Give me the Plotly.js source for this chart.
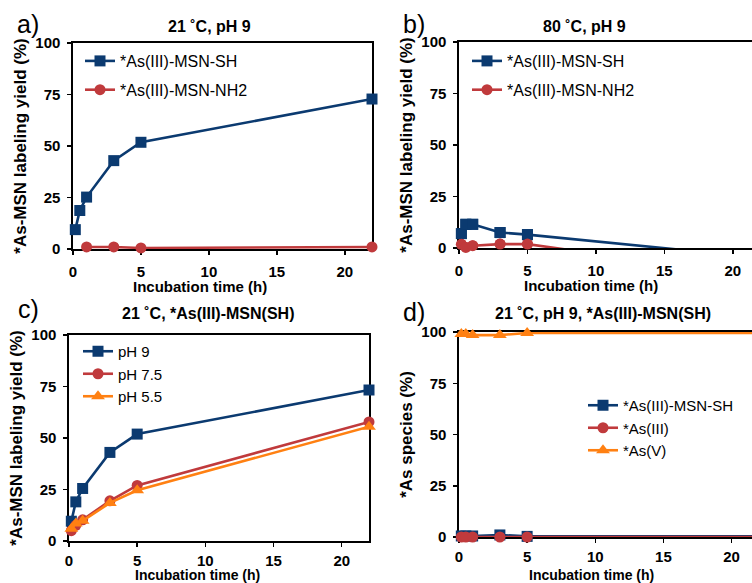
<!DOCTYPE html>
<html><head><meta charset="utf-8">
<script src="https://cdn.plot.ly/plotly-3.0.1.min.js"></script>
<style>html,body{margin:0;padding:0;background:#fff}#chart{width:752px;height:583px}</style>
</head><body><div id="chart"></div>
<script>
// ---- data ----
const timeH = [0.17, 0.5, 1, 3, 5, 22];
const timeNH2a = [1, 3, 5, 22];
const aSH = [9.4, 18.7, 25.2, 42.9, 51.8, 72.8];
const aNH2 = [1, 1, 0.5, 1];
const bSH = [7, 11.5, 11.5, 7.5, 6.5, -4.7];
const bNH2 = [1.8, 0.3, 1.1, 1.9, 1.9, -14];
const cPH9 = [9.6, 19, 25.5, 43, 51.9, 73.3];
const cPH75 = [5, 7.6, 10.3, 19.5, 27, 57.8];
const cPH55 = [6, 8.5, 9.8, 18.5, 24.6, 55.5];
const dSH = [0.5, 0.5, 0.5, 1, 0.3, 0.3];
const dAs3 = [0, 0, 0, 0, 0, 0];
const dAs5 = [99, 99, 98.5, 98.5, 99.5, 99.5];
const yTicks = [0, 25, 50, 75, 100];
const xTicks = [0, 5, 10, 15, 20];
const namesAB = ['*As(III)-MSN-SH', '*As(III)-MSN-NH2'];
const namesC = ['pH 9', 'pH 7.5', 'pH 5.5'];
const namesD = ['*As(III)-MSN-SH', '*As(III)', '*As(V)'];
const panelTitles = ['21 ˚C, pH 9', '80 ˚C, pH 9', '21 ˚C, *As(III)-MSN(SH)', '21 ˚C, pH 9, *As(III)-MSN(SH)'];
const panelLabels = ['a)', 'b)', 'c)', 'd)'];
const xTitle = 'Incubation time (h)';
const yTitleYield = '*As-MSN labeling yield (%)';
const yTitleSpecies = '*As species (%)';

// ---- styles ----
const F = 'Liberation Sans, Arial, sans-serif';
const BLUE = '#0b3a70', RED = '#c03a3c', ORANGE = '#ff8012';
const W = 752, H = 583;
const sym = {sq: 'square', ci: 'circle', tr: 'triangle-up'};
const msize = {square: 11, circle: 11, 'triangle-up': 12};

function tr(x, y, name, color, symbol, xa, ya, leg, extra) {
  return Object.assign({
    x: x, y: y, name: name, type: 'scatter', mode: 'lines+markers',
    xaxis: xa, yaxis: ya, legend: leg,
    line: {color: color, width: 2.6},
    marker: {color: color, symbol: symbol, size: msize[symbol]},
    cliponaxis: false, hoverinfo: 'x+y+name'
  }, extra || {});
}

const data = [
  tr(timeH, aSH, namesAB[0], BLUE, sym.sq, 'x', 'y', 'legend', {legendgroup: 'a1'}),
  tr(timeNH2a, aNH2, namesAB[1], RED, sym.ci, 'x', 'y', 'legend', {legendgroup: 'a2'}),
  tr(timeH, bSH, namesAB[0], BLUE, sym.sq, 'x2', 'y2', 'legend2', {legendgroup: 'b1', cliponaxis: true}),
  tr(timeH, bNH2, namesAB[1], RED, sym.ci, 'x2', 'y2', 'legend2', {legendgroup: 'b2', cliponaxis: true}),
  tr(timeH, bSH, namesAB[0], BLUE, sym.sq, 'x2', 'y2', 'legend2', {mode: 'markers', showlegend: false}),
  tr(timeH, bNH2, namesAB[1], RED, sym.ci, 'x2', 'y2', 'legend2', {mode: 'markers', showlegend: false}),
  tr(timeH, cPH9, namesC[0], BLUE, sym.sq, 'x3', 'y3', 'legend3'),
  tr(timeH, cPH75, namesC[1], RED, sym.ci, 'x3', 'y3', 'legend3'),
  tr(timeH, cPH55, namesC[2], ORANGE, sym.tr, 'x3', 'y3', 'legend3'),
  tr(timeH, dSH, namesD[0], BLUE, sym.sq, 'x4', 'y4', 'legend4'),
  tr(timeH, dAs3, namesD[1], RED, sym.ci, 'x4', 'y4', 'legend4'),
  tr(timeH, dAs5, namesD[2], ORANGE, sym.tr, 'x4', 'y4', 'legend4')
];

const tickFont = {family: F, size: 15, weight: 'bold', color: '#000'};
function ax(extra) {
  return Object.assign({
    showline: true, linecolor: '#000', linewidth: 1.6,
    showgrid: false, zeroline: false, tickfont: tickFont,
    layer: 'below traces', fixedrange: true, automargin: false
  }, extra);
}
// x axes: transparent major ticks set the label distance; short visible minor ticks mark the values
function xa(domain, anchor, range, mirror, gap) {
  return ax({domain: domain, anchor: anchor, range: range, tickmode: 'array', tickvals: xTicks,
    mirror: mirror, ticks: 'outside', ticklen: gap, tickcolor: 'rgba(0,0,0,0)',
    minor: {tickmode: 'array', tickvals: xTicks, ticks: 'outside', ticklen: 4, tickwidth: 1.5, tickcolor: '#000', showgrid: false}});
}
function ya(domain, anchor, mirror, title) {
  return ax({domain: domain, anchor: anchor, range: [0, 100], tickmode: 'array', tickvals: yTicks,
    mirror: mirror, ticks: 'outside', ticklen: 4, tickwidth: 1.5, tickcolor: '#000', ticklabelstandoff: 4,
    title: {text: title, font: {family: F, size: 17, weight: 'bold', color: '#000'}, standoff: 4}});
}
const px = v => v / W, py = v => 1 - v / H;

function leg(x, y, gap, size) {
  return {x: px(x), y: py(y), xanchor: 'left', yanchor: 'top', xref: 'paper', yref: 'paper',
    bgcolor: 'rgba(0,0,0,0)', borderwidth: 0, font: {family: F, size: size, color: '#000'},
    tracegroupgap: gap, itemclick: false};
}

const ann = [];
const titlePos = [[210, 26], [584, 26], [208, 314], [603, 313]];
const labelPos = [[28, 24], [414, 24], [28, 309], [414, 312]];
const xTitlePos = [[200, 286, 15], [591, 285, 15], [198, 575, 14], [591, 575, 14]];
panelTitles.forEach((t, i) => ann.push({text: t, x: px(titlePos[i][0]), y: py(titlePos[i][1]), xref: 'paper', yref: 'paper',
  xanchor: 'center', yanchor: 'middle', showarrow: false, font: {family: F, size: 16, weight: 'bold', color: '#000'}}));
panelLabels.forEach((t, i) => ann.push({text: t, x: px(labelPos[i][0]), y: py(labelPos[i][1]), xref: 'paper', yref: 'paper',
  xanchor: 'center', yanchor: 'middle', showarrow: false, font: {family: F, size: 25, color: '#000'}}));
xTitlePos.forEach(p => ann.push({text: xTitle, x: px(p[0]), y: py(p[1]), xref: 'paper', yref: 'paper',
  xanchor: 'center', yanchor: 'middle', showarrow: false, font: {family: F, size: p[2], weight: 'bold', color: '#000'}}));

const layout = {
  width: W, height: H, margin: {l: 0, r: 0, t: 0, b: 0},
  paper_bgcolor: '#fff', plot_bgcolor: '#fff',
  xaxis: xa([px(73), px(372)], 'y', [0, 22], true, 8),
  yaxis: ya([py(249), py(43)], 'x', true, yTitleYield),
  xaxis2: xa([px(459), 1], 'y2', [0, 21.4], true, 8),
  yaxis2: ya([py(248), py(42)], 'x2', false, yTitleYield),
  xaxis3: xa([px(69), px(369)], 'y3', [0, 22], true, 5),
  yaxis3: ya([py(541), py(335)], 'x3', true, yTitleYield),
  xaxis4: xa([px(459), 1], 'y4', [0, 21.5], true, 5),
  yaxis4: ya([py(537), py(332)], 'x4', false, yTitleSpecies),
  legend: leg(80, 44, 5, 16),
  legend2: leg(467, 44, 5, 16),
  legend3: leg(78, 335, 0, 15),
  legend4: leg(583, 389, 0, 15),
  annotations: ann,
  showlegend: true
};

Plotly.newPlot('chart', data, layout, {displayModeBar: false, staticPlot: true});
</script>
</body></html>
